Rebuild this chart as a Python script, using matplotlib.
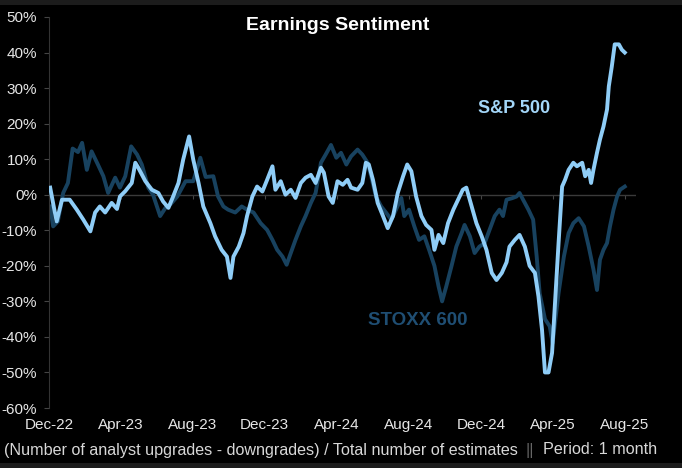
import matplotlib
matplotlib.use("Agg")
import matplotlib.pyplot as plt
import matplotlib.dates as mdates
from matplotlib.patches import Rectangle
from matplotlib.ticker import FuncFormatter
import pandas as pd

plt.rcParams['font.family'] = ['Liberation Sans', 'DejaVu Sans']

# S&P 500 earnings sentiment (%)
sp_dates = ["2022-12-03", "2022-12-10", "2022-12-14", "2022-12-23", "2023-01-05", "2023-01-17", "2023-01-28",
            "2023-02-09", "2023-02-17", "2023-02-25", "2023-03-06", "2023-03-17", "2023-03-26", "2023-03-31",
            "2023-04-09", "2023-04-20", "2023-04-26", "2023-05-01", "2023-05-13", "2023-05-24", "2023-06-04",
            "2023-06-12", "2023-06-21", "2023-06-29", "2023-07-08", "2023-07-16", "2023-07-26", "2023-08-02",
            "2023-08-11", "2023-08-19", "2023-08-31", "2023-09-08", "2023-09-19", "2023-09-28", "2023-10-04",
            "2023-10-09", "2023-10-18", "2023-10-26", "2023-11-01", "2023-11-10", "2023-11-18", "2023-11-27",
            "2023-12-05", "2023-12-14", "2023-12-19", "2023-12-28", "2024-01-05", "2024-01-14", "2024-01-22",
            "2024-01-31", "2024-02-08", "2024-02-17", "2024-02-25", "2024-03-05", "2024-03-10", "2024-03-18",
            "2024-03-25", "2024-04-02", "2024-04-11", "2024-04-19", "2024-04-25", "2024-05-06", "2024-05-14",
            "2024-05-20", "2024-05-25", "2024-06-01", "2024-06-09", "2024-06-18", "2024-06-26", "2024-07-05",
            "2024-07-13", "2024-07-22", "2024-07-29", "2024-08-05", "2024-08-13", "2024-08-22", "2024-08-30",
            "2024-09-08", "2024-09-13", "2024-09-20", "2024-09-28", "2024-10-06", "2024-10-15", "2024-10-23",
            "2024-10-31", "2024-11-06", "2024-11-15", "2024-11-23", "2024-12-02", "2024-12-10", "2024-12-19",
            "2024-12-27", "2025-01-05", "2025-01-13", "2025-01-18", "2025-01-27", "2025-02-04", "2025-02-13",
            "2025-02-21", "2025-03-02", "2025-03-08", "2025-03-14", "2025-03-19", "2025-03-25", "2025-03-31",
            "2025-04-05", "2025-04-11", "2025-04-17", "2025-04-22", "2025-04-28", "2025-05-06", "2025-05-12",
            "2025-05-21", "2025-05-26", "2025-06-01", "2025-06-05", "2025-06-09", "2025-06-15", "2025-06-20",
            "2025-06-26", "2025-07-02", "2025-07-05", "2025-07-10", "2025-07-15", "2025-07-22", "2025-07-27",
            "2025-08-01"]
sp_vals = [2.0, -4.2, -7.5, -1.4, -1.4, -4.2, -7.0,
           -10.3, -5.0, -3.3, -5.0, -2.3, -4.0, -0.5,
           1.0, 3.3, 9.0, 7.6, 3.8, 1.4, 0.5,
           -1.9, -3.7, -0.5, 3.3, 9.9, 16.4, 9.9,
           3.3, -3.3, -8.0, -11.7, -15.5, -17.4, -23.4,
           -17.4, -14.6, -10.8, -6.0, -0.5, 2.3, 0.9,
           4.2, 8.0, 1.4, 3.8, 0.0, 1.4, -0.9,
           3.3, 4.8, 5.6, 3.3, 7.6, 6.2, -0.5,
           -2.3, 3.8, 2.8, 4.2, 2.0, 1.4, 3.3,
           9.0, 8.5, 4.2, -2.3, -6.0, -9.4, -6.0,
           0.5, 5.2, 8.5, 6.6, -0.5, -6.0, -8.5,
           -9.9, -15.5, -11.3, -13.6, -8.0, -4.2, -1.4,
           1.4, 2.0, -3.3, -8.0, -11.7, -15.5, -22.0,
           -24.0, -22.0, -19.0, -14.6, -12.7, -11.3, -14.6,
           -20.0, -22.0, -28.6, -38.0, -50.0, -50.0, -44.5,
           -30.4, -13.6, 2.3, 4.2, 7.0, 9.0, 8.0,
           9.0, 5.2, 7.0, 3.3, 7.0, 11.8, 15.5,
           19.2, 24.0, 30.5, 36.0, 42.3, 42.3, 40.8,
           40.0]

# STOXX 600 earnings sentiment (%)
sx_dates = ["2022-12-03", "2022-12-08", "2022-12-16", "2022-12-25", "2023-01-02", "2023-01-10", "2023-01-19",
            "2023-01-26", "2023-02-03", "2023-02-11", "2023-02-22", "2023-03-03", "2023-03-11", "2023-03-23",
            "2023-03-31", "2023-04-09", "2023-04-19", "2023-04-29", "2023-05-07", "2023-05-18", "2023-05-26",
            "2023-06-07", "2023-06-16", "2023-06-24", "2023-07-06", "2023-07-20", "2023-08-02", "2023-08-14",
            "2023-08-23", "2023-09-05", "2023-09-13", "2023-09-22", "2023-09-30", "2023-10-12", "2023-10-23",
            "2023-11-01", "2023-11-12", "2023-11-24", "2023-12-05", "2023-12-14", "2023-12-22", "2023-12-31",
            "2024-01-07", "2024-01-14", "2024-01-22", "2024-01-31", "2024-02-08", "2024-02-17", "2024-02-25",
            "2024-03-05", "2024-03-13", "2024-03-22", "2024-03-31", "2024-04-08", "2024-04-17", "2024-04-25",
            "2024-05-06", "2024-05-14", "2024-05-23", "2024-05-29", "2024-06-06", "2024-06-15", "2024-06-23",
            "2024-07-02", "2024-07-10", "2024-07-19", "2024-07-24", "2024-08-01", "2024-08-10", "2024-08-18",
            "2024-08-27", "2024-09-04", "2024-09-13", "2024-09-20", "2024-09-26", "2024-10-03", "2024-10-12",
            "2024-10-20", "2024-10-29", "2024-11-03", "2024-11-12", "2024-11-20", "2024-11-28", "2024-12-07",
            "2024-12-15", "2024-12-24", "2025-01-01", "2025-01-07", "2025-01-13", "2025-01-22", "2025-01-30",
            "2025-02-04", "2025-02-10", "2025-02-19", "2025-02-27", "2025-03-05", "2025-03-10", "2025-03-19",
            "2025-03-27", "2025-04-01", "2025-04-05", "2025-04-11", "2025-04-20", "2025-04-28", "2025-05-06",
            "2025-05-15", "2025-05-24", "2025-06-01", "2025-06-09", "2025-06-15", "2025-06-20", "2025-06-26",
            "2025-07-02", "2025-07-07", "2025-07-13", "2025-07-19", "2025-07-24", "2025-08-01"]
sx_vals = [-3.3, -8.9, -7.5, 0.5, 3.3, 13.0, 12.0,
           14.6, 7.0, 12.2, 8.4, 5.2, 0.5, 4.8,
           2.0, 5.2, 13.6, 11.3, 8.5, 2.0, 0.0,
           -6.0, -3.7, -2.8, -0.5, 3.8, 3.8, 10.4,
           5.0, 5.2, -0.5, -3.3, -4.2, -5.0, -3.3,
           -4.2, -5.0, -8.0, -9.9, -12.7, -15.5, -17.4,
           -19.7, -16.4, -12.7, -8.9, -6.0, -2.3, 0.5,
           9.0, 11.3, 14.0, 10.4, 11.8, 8.5, 10.8,
           12.7, 11.3, 9.0, 5.2, -0.5, -3.3, -5.0,
           -7.0, -4.2, -0.9, -6.0, -4.2, -8.9, -12.7,
           -11.7, -15.5, -20.0, -25.8, -30.0, -25.8, -20.0,
           -14.6, -10.8, -8.5, -11.7, -16.4, -14.6, -13.6,
           -10.0, -6.0, -4.2, -6.0, -1.4, -1.0, -0.5,
           0.5, -1.4, -4.2, -7.0, -17.4, -27.7, -35.0,
           -37.0, -41.7, -36.0, -27.7, -17.4, -10.8, -8.0,
           -6.6, -8.9, -14.6, -21.0, -26.8, -18.3, -15.5,
           -13.6, -8.9, -4.2, -0.5, 1.4, 2.3]

light_blue = '#8fcdf7'
dark_blue = '#18425f'
W, H = 682, 468

fig = plt.figure(figsize=(W / 100, H / 100), dpi=100)
fig.patch.set_facecolor('#1c1c1c')
fig.patches.append(Rectangle((0, 5 / H), 1, (463 - 5) / H, transform=fig.transFigure,
                             facecolor='black', edgecolor='none', zorder=-10))

ax = fig.add_axes([49 / W, 1 - 408 / H, (636 - 49) / W, (408 - 17) / H])
ax.set_facecolor('black')

ax.axhline(0, color='#3a3a3a', lw=1, zorder=1)
ax.plot(pd.to_datetime(sx_dates), sx_vals, color=dark_blue, lw=2.8, zorder=2, solid_joinstyle='round')
ax.plot(pd.to_datetime(sp_dates), sp_vals, color=light_blue, lw=2.8, zorder=3, solid_joinstyle='round')

ax.set_ylim(-60, 50)
ax.set_xlim(pd.Timestamp('2022-12-01'), pd.Timestamp('2025-08-20'))
ax.set_yticks(range(-60, 51, 10))
ax.yaxis.set_major_formatter(FuncFormatter(lambda v, p: f"{v:.0f}%"))
ax.xaxis.set_major_locator(mdates.MonthLocator(bymonth=[4, 8, 12]))
ax.xaxis.set_major_formatter(mdates.DateFormatter('%b-%y'))

for s in ['top', 'right', 'bottom']:
    ax.spines[s].set_visible(False)
ax.spines['left'].set_color('#333333')
ax.tick_params(axis='y', colors='#444444', labelcolor='#e6e6e6', labelsize=11, length=3.5, pad=5)
ax.tick_params(axis='x', length=0, labelcolor='#e6e6e6', labelsize=11, pad=7)

# small tick marks on the zero line
sec = ax.secondary_xaxis(60 / 110)
sec.set_alignment('bottom')
sec.xaxis.set_major_locator(mdates.MonthLocator(bymonth=[4, 8, 12]))
sec.tick_params(axis='x', labelbottom=False, labeltop=False, colors='#444444', length=3)
for s in sec.spines.values():
    s.set_visible(False)

ax.text(pd.Timestamp('2024-11-25'), 23.1, 'S&P 500', color='#a3d6f8', fontsize=13,
        fontweight='bold', va='baseline', ha='left')
ax.text(pd.Timestamp('2024-05-23'), -36.6, 'STOXX 600', color='#1f4e73', fontsize=13.5,
        fontweight='bold', va='baseline', ha='left')

fig.text(338 / W, 1 - 30 / H, 'Earnings Sentiment', color='white', fontsize=14,
         fontweight='bold', ha='center', va='baseline')

fig.text(4 / W, 1 - 450 / H, '(Number of analyst upgrades - downgrades) / Total number of estimates',
         color='#d8d8d8', fontsize=11.6, ha='left', va='center')
fig.text(530 / W, 1 - 450 / H, '||', color='#666666', fontsize=11.6, ha='center', va='center')
fig.text(543 / W, 1 - 450 / H, 'Period: 1 month', color='#d8d8d8', fontsize=11.6, ha='left', va='center')

fig.savefig('out.png', dpi=100, facecolor=fig.get_facecolor())
